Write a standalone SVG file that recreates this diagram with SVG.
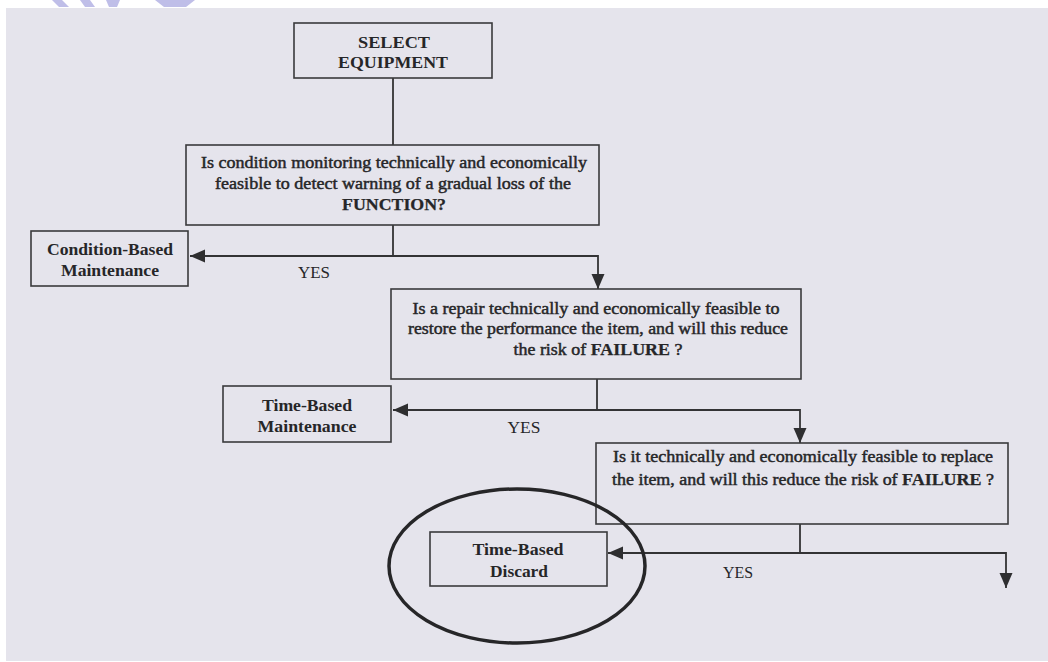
<svg xmlns="http://www.w3.org/2000/svg" width="1048" height="662" viewBox="0 0 1048 662">
<defs>
<style>
.box{fill:none;stroke:#3a3a3c;stroke-width:1.6}
.ln{fill:none;stroke:#333335;stroke-width:1.8}
.t{font-family:"Liberation Serif","Times New Roman",serif;fill:#262628;text-anchor:middle}
.b{font-weight:bold;font-size:17px}
.q{font-size:16px;stroke:#262628;stroke-width:0.45}
.qb{font-weight:bold;stroke-width:0.25}
.y{font-size:16px}
</style>
<marker id="ah" markerUnits="userSpaceOnUse" markerWidth="16" markerHeight="16" viewBox="0 0 16 16" refX="15" refY="8" orient="auto">
<path d="M0,1.5 L15,8 L0,14.5 Z" fill="#2e2e30"/>
</marker>
</defs>
<rect width="1048" height="662" fill="#ffffff"/>
<rect x="6" y="8" width="1042" height="653" fill="#e5e4ec"/>
<g id="watermark" fill="#bfbee8">
<polygon points="52,0 62,0 69,7 59,7"/>
<polygon points="80,0 90,0 95,7 85,7"/>
<polygon points="106,0 120,0 117,7 109,7"/>
<polygon points="155,0 195,0 186,7 164,7"/>
</g>
<g id="connectors">
<line class="ln" x1="393" y1="78" x2="393" y2="145"/>
<polyline class="ln" points="393,225 393,256 190,256" marker-end="url(#ah)"/>
<polyline class="ln" points="393,256 598,256 598,289" marker-end="url(#ah)"/>
<polyline class="ln" points="597,379 597,410 393,410" marker-end="url(#ah)"/>
<polyline class="ln" points="597,410 800,410 800,443" marker-end="url(#ah)"/>
<polyline class="ln" points="800,524 800,553 608,553" marker-end="url(#ah)"/>
<polyline class="ln" points="800,553 1006,553 1006,588" marker-end="url(#ah)"/>
</g>
<g id="n-select">
<rect class="box" x="294" y="23" width="198" height="55"/>
<text class="t b" x="394" y="48" textLength="72" lengthAdjust="spacingAndGlyphs">SELECT</text>
<text class="t b" x="393" y="68" textLength="110" lengthAdjust="spacingAndGlyphs">EQUIPMENT</text>
</g>
<g id="n-q1">
<rect class="box" x="186" y="145" width="413" height="80"/>
<text class="t q" x="394" y="168" textLength="386" lengthAdjust="spacingAndGlyphs">Is condition monitoring technically and economically</text>
<text class="t q" x="393" y="189" textLength="356" lengthAdjust="spacingAndGlyphs">feasible to detect warning of a gradual loss of the</text>
<text class="t q qb" x="394" y="210" textLength="104" lengthAdjust="spacingAndGlyphs">FUNCTION?</text>
</g>
<g id="n-cbm">
<rect class="box" x="31" y="231" width="157" height="55"/>
<text class="t b" x="110" y="255" textLength="126" lengthAdjust="spacingAndGlyphs">Condition-Based</text>
<text class="t b" x="110" y="276" textLength="98" lengthAdjust="spacingAndGlyphs">Maintenance</text>
</g>
<text class="t y" x="314" y="278" textLength="32" lengthAdjust="spacingAndGlyphs">YES</text>
<g id="n-q2">
<rect class="box" x="391" y="289" width="410" height="90"/>
<text class="t q" x="596" y="314" textLength="367" lengthAdjust="spacingAndGlyphs">Is a repair technically and economically feasible to</text>
<text class="t q" x="598" y="334" textLength="380" lengthAdjust="spacingAndGlyphs">restore the performance the item, and will this reduce</text>
<text class="t q" x="598" y="355" textLength="169" lengthAdjust="spacingAndGlyphs">the risk of <tspan class="qb">FAILURE</tspan> ?</text>
</g>
<g id="n-tbm">
<rect class="box" x="223" y="386" width="168" height="56"/>
<text class="t b" x="307" y="411" textLength="90" lengthAdjust="spacingAndGlyphs">Time-Based</text>
<text class="t b" x="307" y="432" textLength="99" lengthAdjust="spacingAndGlyphs">Maintenance</text>
</g>
<text class="t y" x="524" y="433" textLength="33" lengthAdjust="spacingAndGlyphs">YES</text>
<g id="n-q3">
<rect class="box" x="596" y="443" width="412" height="81"/>
<text class="t q" x="803" y="462" textLength="380" lengthAdjust="spacingAndGlyphs">Is it technically and economically feasible to replace</text>
<text class="t q" x="803" y="485" textLength="382" lengthAdjust="spacingAndGlyphs">the item, and will this reduce the risk of <tspan class="qb">FAILURE</tspan> ?</text>
</g>
<g id="n-tbd">
<rect class="box" x="430" y="532" width="177" height="54"/>
<text class="t b" x="518" y="555" textLength="91" lengthAdjust="spacingAndGlyphs">Time-Based</text>
<text class="t b" x="519" y="577" textLength="58" lengthAdjust="spacingAndGlyphs">Discard</text>
</g>
<text class="t y" x="738" y="578" textLength="30" lengthAdjust="spacingAndGlyphs">YES</text>
<g id="highlight">
<ellipse cx="517" cy="566" rx="128" ry="77" fill="none" stroke="#262628" stroke-width="3.5"/>
</g>
</svg>
